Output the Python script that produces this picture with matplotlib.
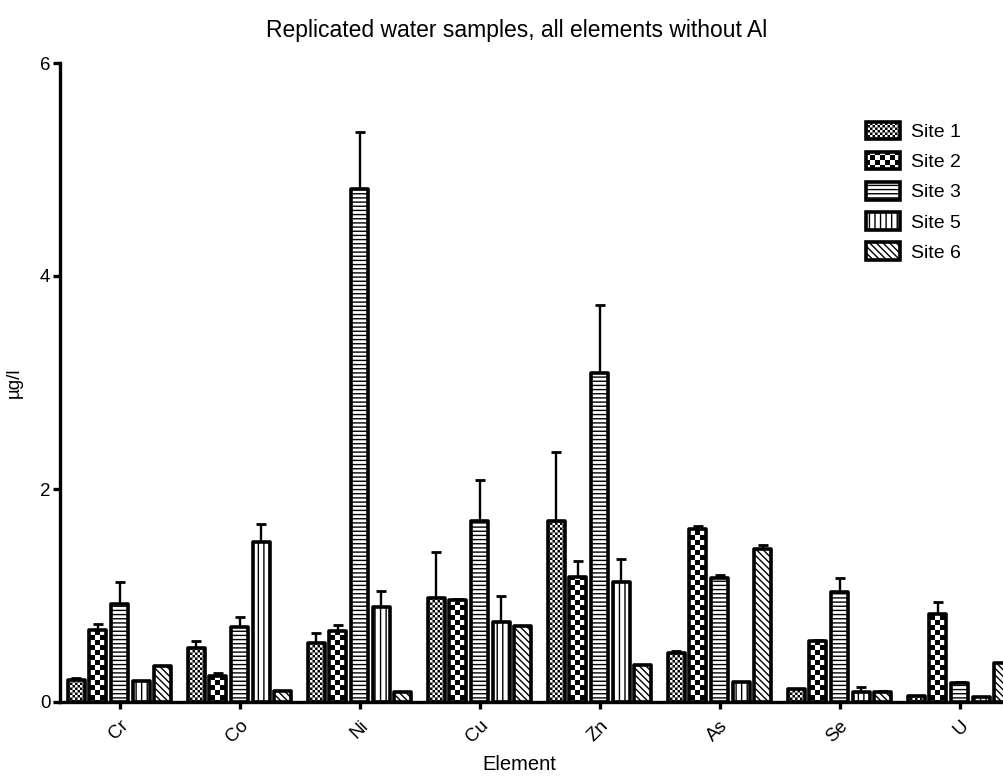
import numpy as np
import matplotlib as mpl
mpl.use('Agg')
import matplotlib.pyplot as plt
import matplotlib.hatch as mhatch
from matplotlib.path import Path

# ── data ─────────────────────────────────────────────────────
elements = ['Cr', 'Co', 'Ni', 'Cu', 'Zn', 'As', 'Se', 'U']
sites = ['Site 1', 'Site 2', 'Site 3', 'Site 5', 'Site 6']

site1 = [0.21, 0.51, 0.55, 0.98, 1.70, 0.46, 0.12, 0.06]
site2 = [0.68, 0.24, 0.67, 0.96, 1.17, 1.62, 0.57, 0.83]
site3 = [0.92, 0.70, 4.82, 1.70, 3.09, 1.16, 1.03, 0.18]
site5 = [0.20, 1.50, 0.89, 0.75, 1.13, 0.19, 0.09, 0.05]
site6 = [0.34, 0.10, 0.09, 0.71, 0.35, 1.44, 0.09, 0.37]

# upper error bars (SEM), one list per site
site1_err = [0.02, 0.06, 0.10, 0.43, 0.65, 0.02, 0.00, 0.00]
site2_err = [0.05, 0.03, 0.05, 0.01, 0.15, 0.03, 0.01, 0.11]
site3_err = [0.21, 0.10, 0.53, 0.38, 0.64, 0.03, 0.13, 0.01]
site5_err = [0.00, 0.17, 0.15, 0.25, 0.21, 0.00, 0.05, 0.00]
site6_err = [0.00, 0.00, 0.00, 0.00, 0.00, 0.03, 0.01, 0.00]

values = [site1, site2, site3, site5, site6]
errors = [site1_err, site2_err, site3_err, site5_err, site6_err]

# ── style ────────────────────────────────────────────────────
plt.rcParams['font.family'] = ['Liberation Sans', 'DejaVu Sans']
plt.rcParams['hatch.linewidth'] = 1.0
plt.rcParams['hatch.color'] = 'black'


# checkerboard hatch: each 'O' gives 10 cells per hatch tile
class CheckerHatch(mhatch.HatchPatternBase):
    def __init__(self, hatch, density):
        self.n = hatch.count('O') * 10
        self.num_vertices = (self.n * self.n // 2) * 5

    def set_vertices_and_codes(self, vertices, codes):
        n = self.n
        c = 1.0 / n
        lw = mpl.rcParams['hatch.linewidth'] / 72.0
        s = max(c - lw, c * 0.25)
        k = 0
        for r in range(n):
            for q in range(n):
                if (r + q) % 2:
                    continue
                x0 = q * c + (c - s) / 2
                y0 = r * c + (c - s) / 2
                vertices[k:k + 5] = [(x0, y0), (x0 + s, y0), (x0 + s, y0 + s),
                                     (x0, y0 + s), (x0, y0)]
                codes[k:k + 5] = [Path.MOVETO, Path.LINETO, Path.LINETO,
                                  Path.LINETO, Path.CLOSEPOLY]
                k += 5


# swap the large-circle hatch ('O') for the checkerboard
mhatch._hatch_types[:] = [t for t in mhatch._hatch_types
                          if t is not mhatch.LargeCircles] + [CheckerHatch]

hatches = ['OOOO', 'OO', '----', '|||', '\\\\\\\\\\']

# ── plot ─────────────────────────────────────────────────────
fig = plt.figure(figsize=(10.04, 7.77), dpi=100)
ax = fig.add_axes([60 / 1004, 75 / 777, 970 / 1004, 639 / 777])

x = np.arange(len(elements))
step = 0.18
width = 0.142

for j, (vals, errs) in enumerate(zip(values, errors)):
    pos = x + (j - 2) * step
    ax.bar(pos, vals, width, color='white', edgecolor='black',
           linewidth=2.6, hatch=hatches[j], label=sites[j], zorder=2,
           joinstyle='round')
    ax.errorbar(pos, vals, yerr=[np.zeros(len(errs)), errs], fmt='none',
                ecolor='black', elinewidth=1.7, capsize=3.3, capthick=2.0,
                zorder=1)

ax.set_xlim(-0.496, 7.5875)
ax.set_ylim(0, 6)
ax.set_yticks([0, 2, 4, 6])
ax.set_xticks(x)
ax.set_xticklabels(elements, rotation=45, ha='right', va='top',
                   rotation_mode='anchor')

for side in ['top', 'right']:
    ax.spines[side].set_visible(False)
for side in ['left', 'bottom']:
    ax.spines[side].set_linewidth(2.4)
ax.tick_params(axis='both', direction='out', width=2.4, length=5,
               labelsize=13.5, pad=2)
ax.tick_params(axis='x', pad=6)

ax.set_ylabel('µg/l', fontsize=13.5)
ax.yaxis.set_label_coords(-0.038, 0.5)
ax.set_xlabel('Element', fontsize=14.5)
ax.xaxis.set_label_coords(0.474, -0.083)

fig.text(517 / 1004, 1 - 30 / 777,
         'Replicated water samples, all elements without Al',
         ha='center', va='center', fontsize=16.5)

ax.legend(loc='upper left', bbox_to_anchor=(866 / 1004, 1 - 122 / 777),
          bbox_transform=fig.transFigure, frameon=False, fontsize=14,
          handlelength=1.75, handleheight=1.0, handletextpad=0.55,
          labelspacing=0.55, borderpad=0, borderaxespad=0)

plt.savefig('out.png', dpi=100)
